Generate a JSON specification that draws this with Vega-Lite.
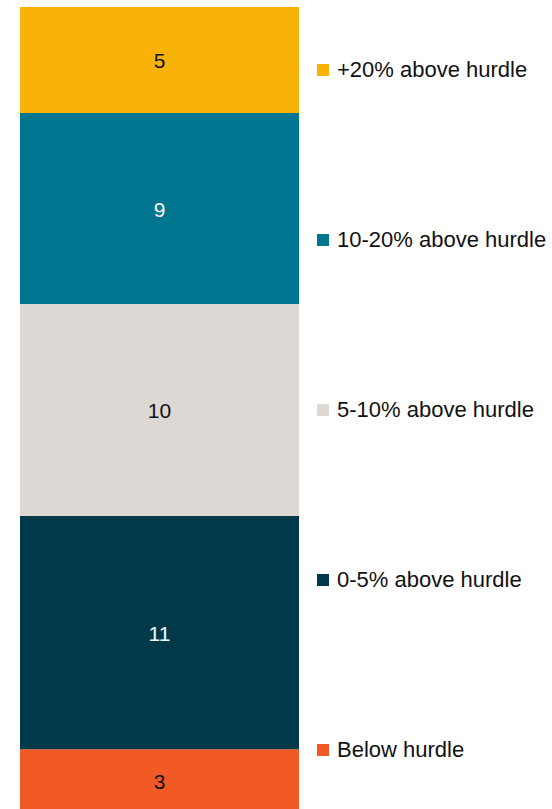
{
  "$schema": "https://vega.github.io/schema/vega-lite/v6.json",
  "width": 552,
  "height": 809,
  "autosize": {"type": "fit", "contains": "padding"},
  "padding": 0,
  "background": "white",
  "config": {"view": {"stroke": null}, "font": "Liberation Sans"},
  "data": {
    "values": [
      {"group": "All", "category": "Below hurdle", "order": 1, "value": 3},
      {"group": "All", "category": "0-5% above hurdle", "order": 2, "value": 11},
      {"group": "All", "category": "5-10% above hurdle", "order": 3, "value": 10},
      {"group": "All", "category": "10-20% above hurdle", "order": 4, "value": 9},
      {"group": "All", "category": "+20% above hurdle", "order": 5, "value": 5}
    ]
  },
  "transform": [
    {"stack": "value", "groupby": ["group"], "sort": [{"field": "order"}], "as": ["v0", "v1"]},
    {"calculate": "(datum.v0 + datum.v1) / 2", "as": "mid"}
  ],
  "encoding": {
    "x": {"field": "group", "type": "nominal", "axis": null,
          "scale": {"range": [20, 299], "paddingInner": 0, "paddingOuter": 0}}
  },
  "layer": [
    {
      "mark": {"type": "bar", "stroke": null},
      "encoding": {
        "y": {"field": "v0", "type": "quantitative", "axis": null,
              "scale": {"domain": [0, 38], "range": [813, 7], "nice": false, "zero": true}},
        "y2": {"field": "v1"},
        "color": {
          "field": "category", "type": "nominal",
          "scale": {
            "domain": ["+20% above hurdle", "10-20% above hurdle", "5-10% above hurdle", "0-5% above hurdle", "Below hurdle"],
            "range": ["#F9B208", "#00758F", "#DDD8D3", "#003A4A", "#F15A24"]
          },
          "legend": {
            "title": null,
            "orient": "none",
            "legendX": 312,
            "legendY": 59,
            "symbolType": "square",
            "symbolSize": 144,
            "symbolStrokeWidth": 0,
            "symbolOpacity": 1,
            "labelFontSize": 22,
            "labelFont": "Liberation Sans",
            "labelColor": "#111111",
            "labelOffset": 3,
            "labelLimit": 300,
            "rowPadding": 148
          }
        }
      }
    },
    {
      "mark": {"type": "text", "fontSize": 21, "font": "Liberation Sans", "baseline": "middle", "align": "center", "dy": 2},
      "encoding": {
        "y": {"field": "mid", "type": "quantitative"},
        "text": {"field": "value", "type": "quantitative"},
        "color": {
          "condition": {"test": "datum.category === '10-20% above hurdle' || datum.category === '0-5% above hurdle'", "value": "#FFFFFF"},
          "value": "#111111"
        }
      }
    }
  ]
}
